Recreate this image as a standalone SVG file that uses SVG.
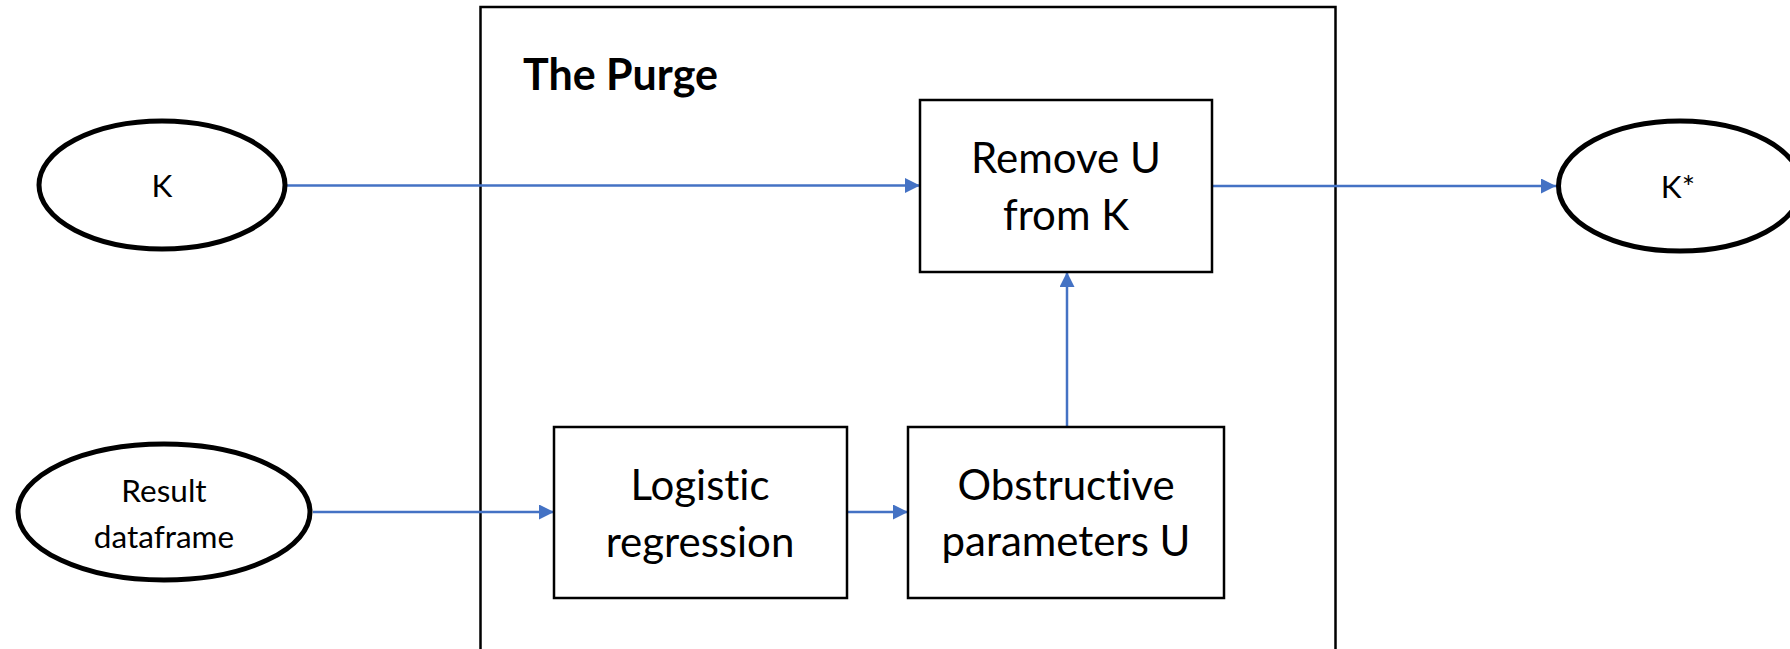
<svg xmlns="http://www.w3.org/2000/svg" width="1790" height="649" viewBox="0 0 1790 649">
  <style>
    .ell { fill: #ffffff; stroke: #000000; stroke-width: 5; }
    .box { fill: #ffffff; stroke: #000000; stroke-width: 2.5; }
    .frame { fill: none; stroke: #000000; stroke-width: 2.5; }
    text { font-variant-ligatures: none; font-feature-settings: "liga" 0, "dlig" 0; }
    .lbl { font-family: Lato, "Open Sans", "Liberation Sans", sans-serif; fill: #000000; text-anchor: middle; }
    .big { font-size: 42px; }
    .small { font-size: 31.5px; }
    .title { font-family: Lato, "Open Sans", "Liberation Sans", sans-serif; font-weight: bold; font-size: 43px; fill: #000000; }
    .conn { stroke: #4472C4; stroke-width: 2.5; fill: none; marker-end: url(#arrow); }
  </style>
  <defs>
    <marker id="arrow" markerUnits="userSpaceOnUse" markerWidth="16" markerHeight="16" refX="15" refY="7.5" orient="auto">
      <path d="M0,0 L15,7.5 L0,15 z" fill="#4472C4"/>
    </marker>
  </defs>

  <rect width="1790" height="649" fill="#ffffff"/>

  <!-- enclosing process frame -->
  <g id="the-purge">
    <rect class="frame" x="480.5" y="7" width="855" height="700"/>
    <text class="title" x="523" y="90">The Purge</text>
  </g>

  <!-- connectors -->
  <g id="connectors">
    <line class="conn" x1="287" y1="185.5" x2="920" y2="185.5"/>
    <line class="conn" x1="1212" y1="186" x2="1556" y2="186"/>
    <line class="conn" x1="313" y1="512" x2="554" y2="512"/>
    <line class="conn" x1="847" y1="512" x2="908" y2="512"/>
    <line class="conn" x1="1067" y1="427" x2="1067" y2="272"/>
  </g>

  <g id="k">
    <ellipse class="ell" cx="162" cy="185" rx="123" ry="64"/>
    <text class="lbl small" x="162" y="197">K</text>
  </g>

  <g id="result-dataframe">
    <ellipse class="ell" cx="164" cy="512" rx="146" ry="68"/>
    <text class="lbl small" x="164" y="502">Result</text>
    <text class="lbl small" x="164" y="548">dataframe</text>
  </g>

  <g id="remove-u">
    <rect class="box" x="920" y="100" width="292" height="172"/>
    <text class="lbl big" x="1066" y="173">Remove U</text>
    <text class="lbl big" x="1066" y="230">from K</text>
  </g>

  <g id="logistic-regression">
    <rect class="box" x="554" y="427" width="293" height="171"/>
    <text class="lbl big" x="700" y="500">Logistic</text>
    <text class="lbl big" x="700" y="557">regression</text>
  </g>

  <g id="obstructive-parameters">
    <rect class="box" x="908" y="427" width="316" height="171"/>
    <text class="lbl big" x="1066" y="500">Obstructive</text>
    <text class="lbl big" x="1066" y="556">parameters U</text>
  </g>

  <g id="k-star">
    <ellipse class="ell" cx="1680" cy="186" rx="121.5" ry="65"/>
    <text class="lbl small" x="1678" y="198">K*</text>
  </g>
</svg>
